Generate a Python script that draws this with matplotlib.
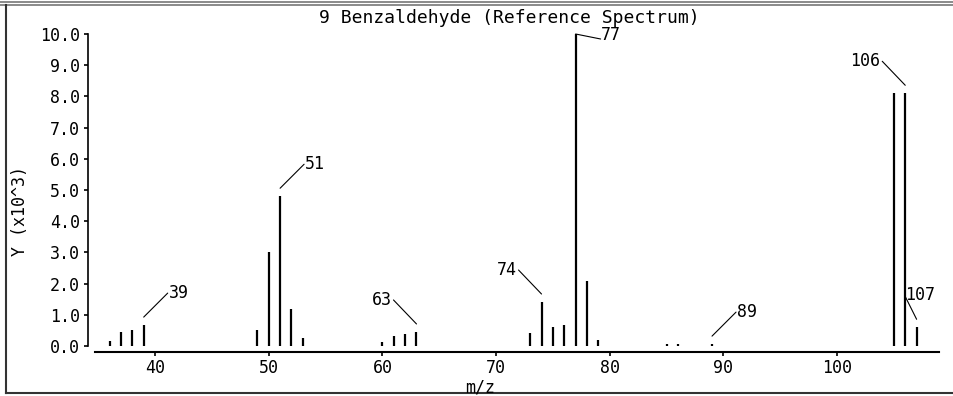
# Benzaldehyde reference mass spectrum, stick plot
import matplotlib

matplotlib.use("Agg")
import matplotlib.pyplot as plt
from matplotlib.lines import Line2D
from matplotlib.transforms import offset_copy

# DATA ##########################################

mz = [36, 37, 38, 39, 49, 50, 51, 52, 53, 60, 61, 62, 63,
      73, 74, 75, 76, 77, 78, 79, 85, 86, 89, 105, 106, 107]
abundance = [150, 450, 500, 670, 500, 3000, 4800, 1190, 260, 130, 320, 390, 450,
             430, 1410, 610, 670, 10000, 2080, 200, 60, 60, 60, 8100, 8100, 600]

# labelled peaks: m/z and which side the label sits on
label_mz = [39, 51, 63, 74, 77, 89, 106, 107]
label_side = ["right", "right", "left", "left", "flat", "right", "left", "up"]

title = "9 Benzaldehyde (Reference Spectrum)"
xticks = [40, 50, 60, 70, 80, 90, 100]
yticks = [0, 1000, 2000, 3000, 4000, 5000, 6000, 7000, 8000, 9000, 10000]
yticklabels = ["0.0", "1.0", "2.0", "3.0", "4.0", "5.0", "6.0", "7.0", "8.0", "9.0", "10.0"]

# SETUP #########################################

plt.rcParams.update({"font.family": "DejaVu Sans Mono", "font.size": 12})

W, H = 954, 396
fig = plt.figure(figsize=(W / 100, H / 100), dpi=100)
ax = fig.add_axes([88 / W, 50 / H, 851 / W, 312 / H])

# PLOTTING ######################################

ax.vlines(mz, 0, abundance, color="black", linewidth=1.6)

ax.set_xlim(34.1, 108.97)
ax.set_ylim(0, 10000)

# leader lines and labels: line start, line end, text pos (pixels from peak top)
offsets = {
    "right": ((0, 8), (24, 32), (25, 32), "left"),
    "left": ((0, 8), (-23, 32), (-25, 32), "right"),
    "flat": ((0, 0), (25, -5), (25, -1), "left"),
    "up": ((0, 8), (-11, 30), (-12, 32), "left"),
}
height = dict(zip(mz, abundance))
for m, side in zip(label_mz, label_side):
    start, end, txt, ha = offsets[side]
    h = height[m]
    start_tr = offset_copy(ax.transData, fig=fig, x=start[0], y=start[1], units="dots")
    ax.annotate(
        "",
        xy=(m, h),
        xycoords=start_tr,
        xytext=(end[0] - start[0], end[1] - start[1]),
        textcoords="offset pixels",
        arrowprops=dict(arrowstyle="-", color="black", lw=0.8,
                        shrinkA=0, shrinkB=0, patchA=None),
        annotation_clip=False,
    )
    ax.annotate(str(m), xy=(m, h), xytext=txt, textcoords="offset pixels",
                ha=ha, va="center", fontsize=12, annotation_clip=False)

# AXES ##########################################

for s in ["top", "right"]:
    ax.spines[s].set_visible(False)
ax.spines["bottom"].set_position(("outward", 4.3))
ax.spines["bottom"].set_bounds(34.72, 108.97)
ax.spines["left"].set_linewidth(1.2)
ax.spines["bottom"].set_linewidth(1.5)

ax.set_xticks(xticks)
ax.set_yticks(yticks)
ax.set_yticklabels(yticklabels)
ax.tick_params(axis="both", direction="out", length=3, width=1.2, labelsize=12)
ax.tick_params(axis="y", pad=3)
ax.tick_params(axis="x", pad=2)

# TEXT ##########################################

fig.text(509 / W, 1 - 18 / H, title, ha="center", va="center", fontsize=13)
fig.text(20 / W, 1 - 211 / H, "Y (x10^3)", ha="center", va="center",
         rotation=90, fontsize=12)
fig.text(480 / W, 1 - 387 / H, "m/z", ha="center", va="center", fontsize=12)

# FRAME #########################################

fig.add_artist(Line2D([0, 1], [1 - 1.5 / H] * 2, color="#777777", lw=1.2))
fig.add_artist(Line2D([0, 1], [1 - 4.5 / H] * 2, color="#777777", lw=1.2))
fig.add_artist(Line2D([6 / W] * 2, [1 - 5 / H, 1 - 393 / H], color="#333333", lw=1.5))
fig.add_artist(Line2D([6 / W, 1], [1 - 393 / H] * 2, color="#333333", lw=1.5))

fig.savefig("out.png", dpi=100)
